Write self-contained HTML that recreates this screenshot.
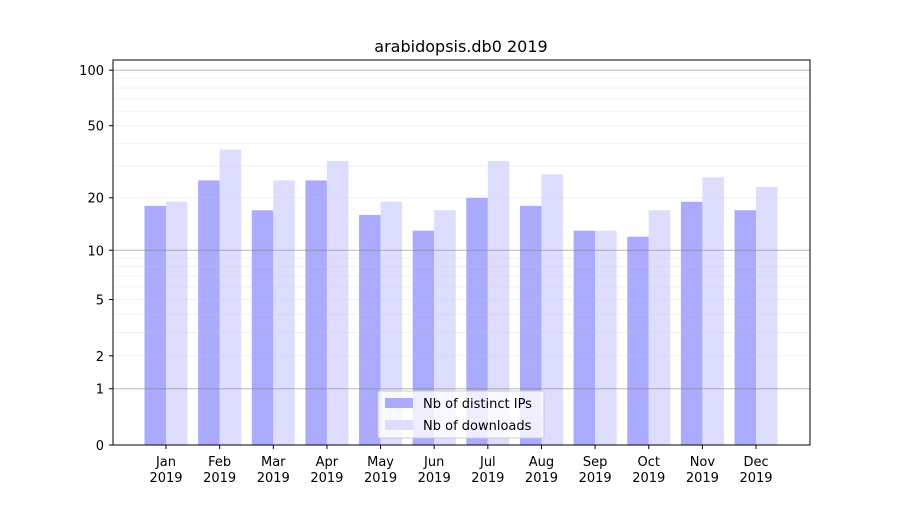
<!DOCTYPE html>
<html><head><meta charset="utf-8"><style>
body{margin:0;background:#fff;font-family:"Liberation Sans","DejaVu Sans",sans-serif}
</style></head><body>
<svg id="chart" width="900" height="500" xmlns="http://www.w3.org/2000/svg" font-family="DejaVu Sans, Liberation Sans, sans-serif">
<rect width="900" height="500" fill="#fff"/>
<text x="461" y="52" font-size="16" text-anchor="middle">arabidopsis.db0 2019</text>
<g id="bars"></g>
<g id="grid"></g>
<rect x="113" y="60" width="697" height="385" fill="none" stroke="#000" stroke-width="1"/>
<g id="axes" font-size="13"></g>
<g>
<rect x="378" y="391" width="166" height="47" fill="#fff" fill-opacity="0.8" stroke="#ccc" rx="2"/>
<rect x="385" y="398" width="28" height="10" fill="#aaaaff"/>
<text x="423" y="408" font-size="13">Nb of distinct IPs</text>
<rect x="385" y="420" width="28" height="10" fill="#ddddff"/>
<text x="423" y="430" font-size="13">Nb of downloads</text>
</g>
</svg>
<script>
const months = ["Jan","Feb","Mar","Apr","May","Jun","Jul","Aug","Sep","Oct","Nov","Dec"];
const ips = [18,25,17,25,16,13,20,18,13,12,19,17];
const downloads = [19,37,25,32,19,17,32,27,13,17,26,23];
const yTicks = [0,1,2,5,10,20,50,100];
const NS="http://www.w3.org/2000/svg";
function y(v){return 445-187*Math.log10(v+1);}
function xc(i){return 166+i*53.64;}
function mk(tag,attrs,parent){const e=document.createElementNS(NS,tag);for(const k in attrs)e.setAttribute(k,attrs[k]);parent.appendChild(e);return e;}
const bars=document.getElementById('bars'),grid=document.getElementById('grid'),axes=document.getElementById('axes');
const bw=21.5;
months.forEach((m,i)=>{
  const a=mk('rect',{x:xc(i)-bw,y:y(ips[i]),width:bw,height:445-y(ips[i]),fill:'#aaaaff'},bars);
  
  
  const b=mk('rect',{x:xc(i),y:y(downloads[i]),width:bw,height:445-y(downloads[i]),fill:'#ddddff'},bars);
  
  
  mk('line',{x1:xc(i),x2:xc(i),y1:445,y2:449,stroke:'#000'},axes);
  const t=mk('text',{x:xc(i),y:466,'text-anchor':'middle'},axes);
  t.textContent=m;
  
  
  const t2=mk('text',{x:xc(i),y:482,'text-anchor':'middle'},axes);
  t2.textContent='2019';
  
  
});
for(let d=1;d<=100;d*=10){for(let k=1;k<10;k++){const v=d*k;if(v>110)break;
  const major=(k===1);
  mk('line',{x1:113,x2:810,y1:y(v),y2:y(v),stroke:major?'#888':'#ccc','stroke-opacity':major?0.6:0.35,'stroke-width':major?1:0.8},grid);}}
yTicks.forEach(v=>{
  mk('line',{x1:109,x2:113,y1:y(v),y2:y(v),stroke:'#000'},axes);
  const t=mk('text',{x:104,y:y(v)+5,'text-anchor':'end'},axes);
  t.textContent=v;
  
  
});
</script>
</body></html>
